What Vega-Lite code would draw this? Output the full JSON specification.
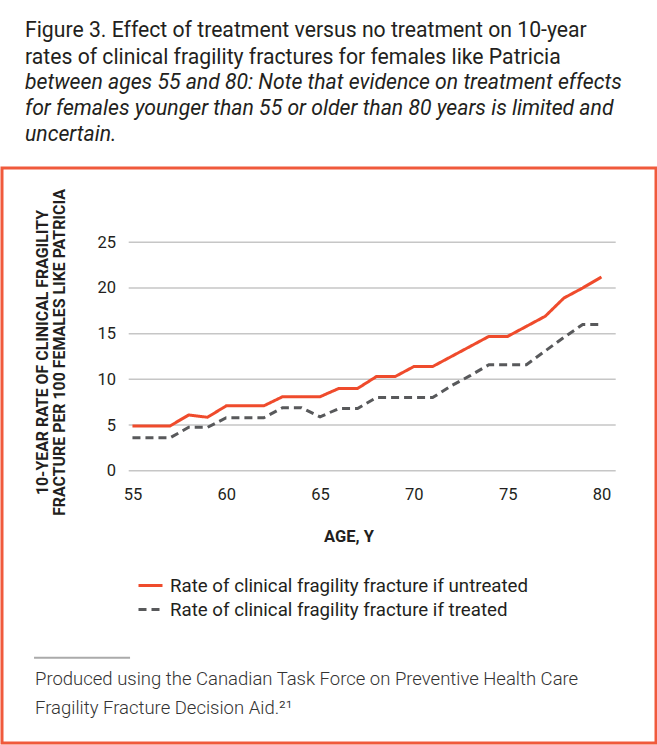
{
  "$schema": "https://vega.github.io/schema/vega-lite/v6.json",
  "background": "white",
  "padding": {"left": 0, "top": 19, "right": 0, "bottom": 0},
  "autosize": {"type": "pad"},
  "config": {
    "font": "Roboto",
    "view": {"stroke": "#F05A3C", "strokeWidth": 3},
    "concat": {"spacing": 0}
  },
  "title": {
    "text": ["Figure 3. Effect of treatment versus no treatment on 10-year", "rates of clinical fragility fractures for females like Patricia"],
    "subtitle": ["between ages 55 and 80: Note that evidence on treatment effects", "for females younger than 55 or older than 80 years is limited and", "uncertain."],
    "anchor": "start",
    "frame": "group",
    "dx": 23,
    "font": "Roboto",
    "fontSize": 21.2,
    "fontWeight": "normal",
    "color": "#231f20",
    "lineHeight": 27.5,
    "subtitleFont": "Roboto",
    "subtitleFontSize": 21.2,
    "subtitleFontStyle": "italic",
    "subtitleColor": "#231f20",
    "subtitleLineHeight": 26,
    "subtitlePadding": 4,
    "offset": 21
  },
  "vconcat": [
    {
      "width": 654,
      "height": 575,
      "title": {
        "text": ["Produced using the Canadian Task Force on Preventive Health Care", "Fragility Fracture Decision Aid.²¹"],
        "orient": "bottom",
        "anchor": "start",
        "frame": "group",
        "dx": 33,
        "offset": -73,
        "font": "Roboto",
        "fontSize": 18.5,
        "fontWeight": 300,
        "color": "#333333",
        "lineHeight": 29
      },
      "data": {
        "values": [
          {"age": 55, "rate": 4.9, "series": "Rate of clinical fragility fracture if untreated"},
          {"age": 56, "rate": 4.9, "series": "Rate of clinical fragility fracture if untreated"},
          {"age": 57, "rate": 4.9, "series": "Rate of clinical fragility fracture if untreated"},
          {"age": 58, "rate": 6.1, "series": "Rate of clinical fragility fracture if untreated"},
          {"age": 59, "rate": 5.85, "series": "Rate of clinical fragility fracture if untreated"},
          {"age": 60, "rate": 7.1, "series": "Rate of clinical fragility fracture if untreated"},
          {"age": 61, "rate": 7.1, "series": "Rate of clinical fragility fracture if untreated"},
          {"age": 62, "rate": 7.1, "series": "Rate of clinical fragility fracture if untreated"},
          {"age": 63, "rate": 8.1, "series": "Rate of clinical fragility fracture if untreated"},
          {"age": 64, "rate": 8.1, "series": "Rate of clinical fragility fracture if untreated"},
          {"age": 65, "rate": 8.1, "series": "Rate of clinical fragility fracture if untreated"},
          {"age": 66, "rate": 9.0, "series": "Rate of clinical fragility fracture if untreated"},
          {"age": 67, "rate": 9.0, "series": "Rate of clinical fragility fracture if untreated"},
          {"age": 68, "rate": 10.3, "series": "Rate of clinical fragility fracture if untreated"},
          {"age": 69, "rate": 10.3, "series": "Rate of clinical fragility fracture if untreated"},
          {"age": 70, "rate": 11.4, "series": "Rate of clinical fragility fracture if untreated"},
          {"age": 71, "rate": 11.4, "series": "Rate of clinical fragility fracture if untreated"},
          {"age": 72, "rate": 12.5, "series": "Rate of clinical fragility fracture if untreated"},
          {"age": 73, "rate": 13.6, "series": "Rate of clinical fragility fracture if untreated"},
          {"age": 74, "rate": 14.7, "series": "Rate of clinical fragility fracture if untreated"},
          {"age": 75, "rate": 14.7, "series": "Rate of clinical fragility fracture if untreated"},
          {"age": 76, "rate": 15.8, "series": "Rate of clinical fragility fracture if untreated"},
          {"age": 77, "rate": 16.9, "series": "Rate of clinical fragility fracture if untreated"},
          {"age": 78, "rate": 18.9, "series": "Rate of clinical fragility fracture if untreated"},
          {"age": 79, "rate": 20.0, "series": "Rate of clinical fragility fracture if untreated"},
          {"age": 80, "rate": 21.2, "series": "Rate of clinical fragility fracture if untreated"},
          {"age": 55, "rate": 3.6, "series": "Rate of clinical fragility fracture if treated"},
          {"age": 56, "rate": 3.6, "series": "Rate of clinical fragility fracture if treated"},
          {"age": 57, "rate": 3.6, "series": "Rate of clinical fragility fracture if treated"},
          {"age": 58, "rate": 4.75, "series": "Rate of clinical fragility fracture if treated"},
          {"age": 59, "rate": 4.75, "series": "Rate of clinical fragility fracture if treated"},
          {"age": 60, "rate": 5.8, "series": "Rate of clinical fragility fracture if treated"},
          {"age": 61, "rate": 5.8, "series": "Rate of clinical fragility fracture if treated"},
          {"age": 62, "rate": 5.8, "series": "Rate of clinical fragility fracture if treated"},
          {"age": 63, "rate": 6.9, "series": "Rate of clinical fragility fracture if treated"},
          {"age": 64, "rate": 6.9, "series": "Rate of clinical fragility fracture if treated"},
          {"age": 65, "rate": 5.9, "series": "Rate of clinical fragility fracture if treated"},
          {"age": 66, "rate": 6.8, "series": "Rate of clinical fragility fracture if treated"},
          {"age": 67, "rate": 6.8, "series": "Rate of clinical fragility fracture if treated"},
          {"age": 68, "rate": 8.0, "series": "Rate of clinical fragility fracture if treated"},
          {"age": 69, "rate": 8.0, "series": "Rate of clinical fragility fracture if treated"},
          {"age": 70, "rate": 8.0, "series": "Rate of clinical fragility fracture if treated"},
          {"age": 71, "rate": 8.0, "series": "Rate of clinical fragility fracture if treated"},
          {"age": 72, "rate": 9.3, "series": "Rate of clinical fragility fracture if treated"},
          {"age": 73, "rate": 10.4, "series": "Rate of clinical fragility fracture if treated"},
          {"age": 74, "rate": 11.6, "series": "Rate of clinical fragility fracture if treated"},
          {"age": 75, "rate": 11.6, "series": "Rate of clinical fragility fracture if treated"},
          {"age": 76, "rate": 11.6, "series": "Rate of clinical fragility fracture if treated"},
          {"age": 77, "rate": 13.1, "series": "Rate of clinical fragility fracture if treated"},
          {"age": 78, "rate": 14.6, "series": "Rate of clinical fragility fracture if treated"},
          {"age": 79, "rate": 16.0, "series": "Rate of clinical fragility fracture if treated"},
          {"age": 80, "rate": 16.0, "series": "Rate of clinical fragility fracture if treated"}
        ]
      },
      "layer": [
        {
          "data": {"values": [{"g": 0}, {"g": 5}, {"g": 10}, {"g": 15}, {"g": 20}, {"g": 25}]},
          "mark": {"type": "rule", "color": "#c6c6c6", "strokeWidth": 1.5},
          "encoding": {
            "y": {"field": "g", "type": "quantitative", "scale": {"domain": [-29.8, 33.13], "nice": false, "zero": false}},
            "x": {"datum": 54.8, "type": "quantitative", "scale": {"domain": [48.046, 82.908], "nice": false, "zero": false}},
            "x2": {"datum": 80.76}
          }
        },
        {
          "mark": {"type": "line", "strokeWidth": 3, "strokeCap": "butt", "strokeJoin": "miter"},
          "encoding": {
            "x": {
              "field": "age", "type": "quantitative",
              "scale": {"domain": [48.046, 82.908], "nice": false, "zero": false},
              "axis": {
                "values": [55, 60, 65, 70, 75, 80],
                "title": "AGE, Y",
                "orient": "bottom",
                "offset": -272.3,
                "domain": false, "ticks": false, "grid": false,
                "labelPadding": 16,
                "labelFont": "Roboto", "labelFontSize": 16.5, "labelColor": "#231f20",
                "titleFont": "Roboto", "titleFontSize": 16.5, "titleFontWeight": "bold", "titleColor": "#231f20",
                "titlePadding": 25,
                "titleX": 346.5
              }
            },
            "y": {
              "field": "rate", "type": "quantitative",
              "scale": {"domain": [-29.8, 33.13], "nice": false, "zero": false},
              "axis": {
                "values": [0, 5, 10, 15, 20, 25],
                "title": ["10-YEAR RATE OF CLINICAL FRAGILITY", "FRACTURE PER 100 FEMALES LIKE PATRICIA"],
                "offset": -113.5,
                "domain": false, "ticks": false, "grid": false,
                "labelPadding": 0,
                "labelFont": "Roboto", "labelFontSize": 16.5, "labelColor": "#231f20",
                "titleFont": "Roboto", "titleFontSize": 15.9, "titleFontWeight": "bold", "titleColor": "#231f20",
                "titleLineHeight": 17.5,
                "titlePadding": 29,
                "titleY": 184
              }
            },
            "color": {
              "field": "series", "type": "nominal",
              "scale": {"domain": ["Rate of clinical fragility fracture if untreated", "Rate of clinical fragility fracture if treated"], "range": ["#EF4B2C", "#58595B"]},
              "legend": {
                "title": null, "orient": "none", "legendX": 135, "legendY": 404,
                "symbolType": "stroke", "symbolSize": 576, "symbolStrokeWidth": 3,
                "labelFont": "Roboto", "labelFontSize": 18.7, "labelColor": "#231f20", "labelOffset": 6, "labelLimit": 600,
                "rowPadding": 0, "padding": 0
              }
            },
            "strokeDash": {
              "field": "series", "type": "nominal",
              "scale": {"domain": ["Rate of clinical fragility fracture if untreated", "Rate of clinical fragility fracture if treated"], "range": [[1, 0], [8, 5]]},
              "legend": {
                "title": null, "orient": "none", "legendX": 135, "legendY": 404,
                "symbolType": "stroke", "symbolSize": 576, "symbolStrokeWidth": 3,
                "labelFont": "Roboto", "labelFontSize": 18.7, "labelColor": "#231f20", "labelOffset": 6, "labelLimit": 600,
                "rowPadding": 0, "padding": 0
              }
            }
          }
        },
        {
          "data": {"values": [{"part": "footnote separator"}]},
          "mark": {"type": "rule", "color": "#aaaaaa", "strokeWidth": 2},
          "encoding": {
            "x": {"datum": 49.754, "type": "quantitative", "scale": {"domain": [48.046, 82.908], "nice": false, "zero": false}},
            "x2": {"datum": 54.872},
            "y": {"datum": -20.47, "type": "quantitative", "scale": {"domain": [-29.8, 33.13], "nice": false, "zero": false}}
          }
        }
      ]
    }
  ]
}
